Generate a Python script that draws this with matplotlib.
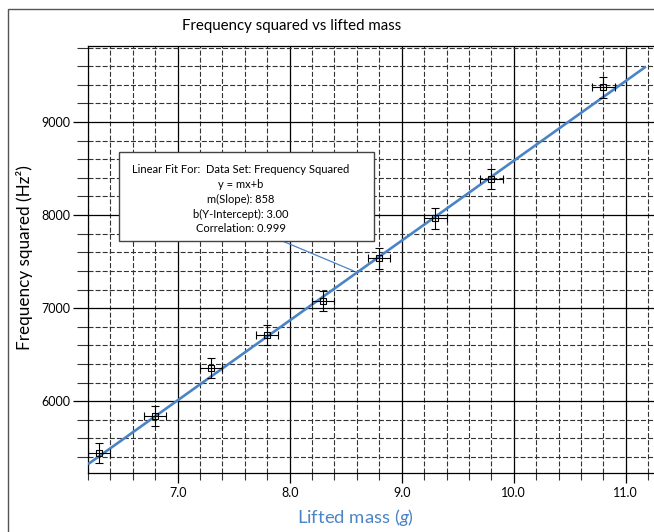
import numpy as np
import matplotlib.pyplot as plt
from matplotlib.patches import Rectangle
from matplotlib.ticker import MultipleLocator, FormatStrFormatter

plt.rcParams['font.family'] = ['Lato', 'DejaVu Sans']
plt.rcParams['mathtext.fontset'] = 'custom'
plt.rcParams['mathtext.rm'] = 'Lato'
plt.rcParams['mathtext.it'] = 'Lato:italic'
plt.rcParams['lines.scale_dashes'] = False

# measured data (lifted mass in g, frequency squared in Hz^2)
mass = [6.3, 6.8, 7.3, 7.8, 8.3, 8.8, 9.3, 9.8, 10.8]
freq_sq = [5444, 5842, 6355, 6710, 7078, 7534, 7965, 8387, 9373]
mass_err = 0.1
freq_err = 110

# linear fit shown in the box
fit_slope = 858
fit_intercept = 3.00
fit_range = [6.2, 11.18]
fit_lines = ["Linear Fit For:  Data Set: Frequency Squared",
             "y = mx+b",
             "m(Slope): 858",
             "b(Y-Intercept): 3.00",
             "Correlation: 0.999"]

blue = '#4a84c6'

fig = plt.figure(figsize=(6.54, 5.32), dpi=100)
ax = fig.add_axes([88/654, 1-473.3/532, 568/654, (473.3-45.7)/532])

ax.set_xlim(6.2, 11.27)
ax.set_ylim(5225, 9820)

ax.xaxis.set_major_locator(MultipleLocator(1))
ax.xaxis.set_minor_locator(MultipleLocator(0.2))
ax.xaxis.set_major_formatter(FormatStrFormatter('%.1f'))
ax.yaxis.set_major_locator(MultipleLocator(1000))
ax.yaxis.set_minor_locator(MultipleLocator(200))

ax.tick_params(axis='x', which='major', direction='out', length=7, width=0.9, pad=3, labelsize=9)
ax.tick_params(axis='x', which='minor', direction='out', length=5, width=0.8, color='#333333')
ax.tick_params(axis='y', which='major', direction='out', length=11, width=0.9, pad=2, labelsize=9)
ax.tick_params(axis='y', which='minor', direction='out', length=8, width=0.8, color='#333333')

ax.grid(which='major', color='black', lw=0.9, ls='-')
ax.grid(which='minor', color='#333333', lw=0.8, ls=(0, (3.6, 1.5)))
ax.set_axisbelow(True)
for side in ['left', 'top', 'bottom']:
    ax.spines[side].set_linewidth(0.9)
ax.spines['right'].set_visible(False)

fx = np.array(fit_range)
ax.plot(fx, fit_slope * fx + fit_intercept, color=blue, lw=1.9, zorder=3, solid_capstyle='butt')

ax.errorbar(mass, freq_sq, xerr=mass_err, yerr=freq_err, fmt='s', ms=5,
            mfc='none', mec='black', mew=0.8, ecolor='black', elinewidth=0.8,
            capsize=3, capthick=0.8, zorder=4)

# fit box and its pointer
ax.annotate('', xy=(8.57, 7400), xycoords='data', xytext=(0.3445, 0.542),
            textcoords='axes fraction',
            arrowprops=dict(arrowstyle='-', color=blue, lw=0.9, shrinkA=0, shrinkB=0),
            zorder=5)
ax.add_patch(Rectangle((0.0548, 0.544), 0.4482, 0.2067, transform=ax.transAxes,
                       facecolor='white', edgecolor='#444444', lw=1.0, zorder=6))
ax.text(0.2686, 0.6410, '\n'.join(fit_lines), transform=ax.transAxes, ha='center',
        va='center', fontsize=8, linespacing=1.42, zorder=7)

fig.text(292/654, 1-26/532, 'Frequency squared vs lifted mass', ha='center', va='center', fontsize=10.8)
fig.text(25/654, 1-258/532, 'Frequency squared (Hz²)', rotation=90, ha='center', va='center', fontsize=12.3)
fig.text(355.6/654, 1-518/532, r'Lifted mass ($\mathit{g}$)', color=blue, fontsize=13.3,
         ha='center', va='center')

fig.patches.append(Rectangle((7.5/654, -0.1), 1.2, 1-9/532+0.1, transform=fig.transFigure,
                             fill=False, edgecolor='#555555', lw=1.0))

fig.savefig('out.png', dpi=100)
